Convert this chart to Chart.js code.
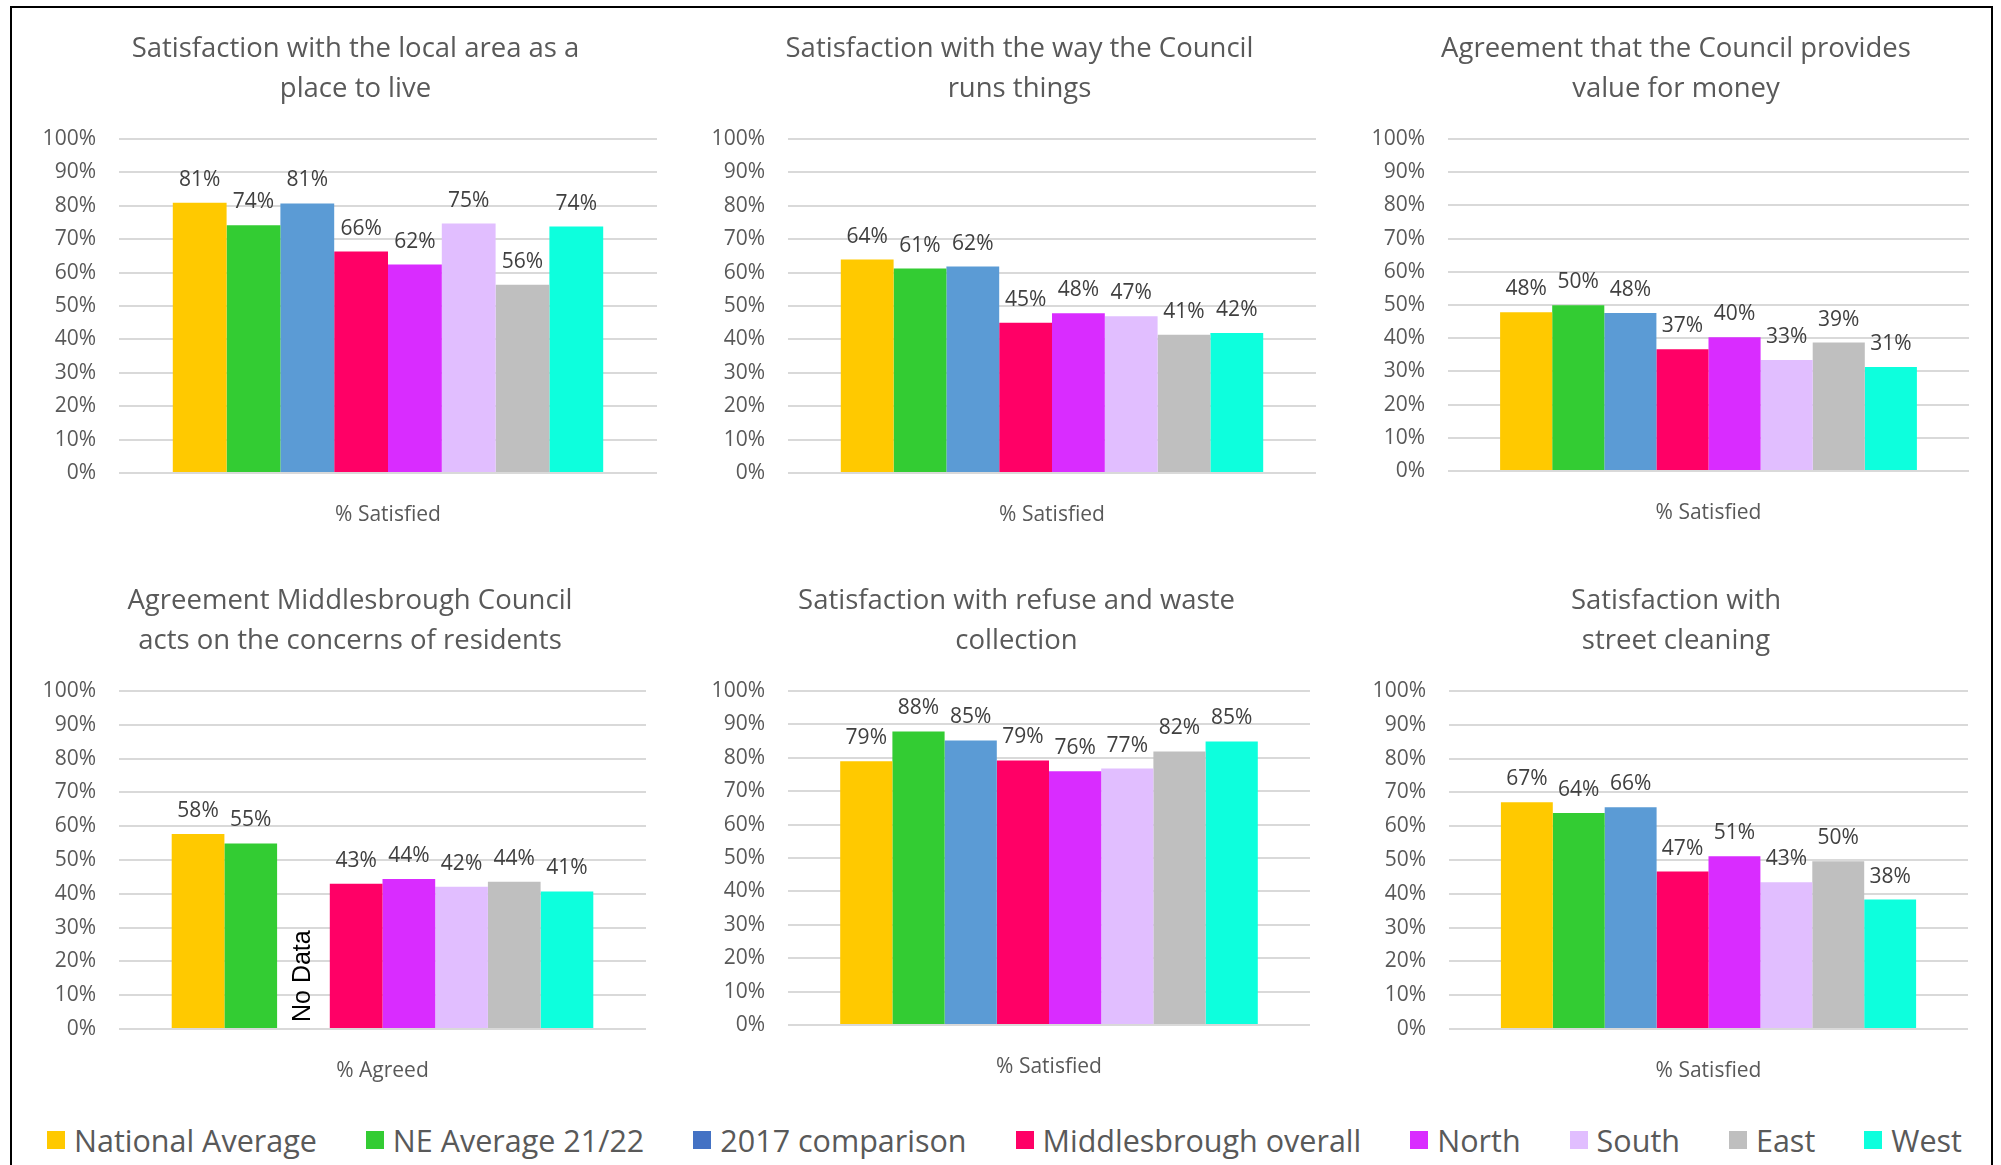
<!DOCTYPE html>
<html lang="en">
<head>
  <meta charset="UTF-8">
  <title>Residents survey results</title>
  <script src="https://cdn.jsdelivr.net/npm/chart.js"></script>
  <style>
    body {
      margin: 0;
      width: 2001px;
      height: 1165px;
      background: #fff;
      overflow: hidden;
      position: relative;
      font-family: 'Open Sans', sans-serif;
    }

    .frame {
      position: absolute;
      left: 10px;
      top: 6px;
      width: 1983px;
      height: 1200px;
      border: 2px solid #000;
      border-bottom: none;
      box-sizing: border-box;
    }

    .box { position: absolute; }
    #box1 { left: 44px;   top: 0;     width: 623px; height: 533px; }
    #box2 { left: 713px;  top: 0;     width: 613px; height: 533px; }
    #box3 { left: 1373px; top: 0;     width: 606px; height: 531px; }
    #box4 { left: 44px;   top: 552px; width: 612px; height: 537px; }
    #box5 { left: 713px;  top: 552px; width: 607px; height: 533px; }
    #box6 { left: 1374px; top: 552px; width: 604px; height: 537px; }

    #legend {
      position: absolute;
      left: 4px;
      top: 1121px;
      width: 2001px;
      display: flex;
      justify-content: center;
      gap: 49px;
      font-size: 30.5px;
      line-height: 38px;
      color: #595959;
    }
    #legend .item { display: flex; align-items: center; }
    #legend .sw { width: 18px; height: 18px; margin-right: 9px; }
  </style>
</head>
<body>

  <div class="frame"></div>

  <div class="box" id="box1"><canvas id="chart1"></canvas></div>
  <div class="box" id="box2"><canvas id="chart2"></canvas></div>
  <div class="box" id="box3"><canvas id="chart3"></canvas></div>
  <div class="box" id="box4"><canvas id="chart4"></canvas></div>
  <div class="box" id="box5"><canvas id="chart5"></canvas></div>
  <div class="box" id="box6"><canvas id="chart6"></canvas></div>

  <div id="legend"></div>

  <script>
    // Series (same in every chart)
    const seriesNames = ['National Average', 'NE Average 21/22', '2017 comparison', 'Middlesbrough overall',
                         'North', 'South', 'East', 'West'];
    const barColours = ['#FFC900', '#33CC33', '#5B9BD5', '#FF0066', '#D92CFF', '#E1BEFF', '#BFBFBF', '#0DFFDD'];
    const legendColours = ['#FFC900', '#33CC33', '#4472C4', '#FF0066', '#D92CFF', '#E1BEFF', '#BFBFBF', '#0DFFDD'];

    // Values (%) per chart, in series order; null = no data
    const localArea      = [80.9, 74.2, 80.7, 66.3, 62.4, 74.7, 56.4, 73.8];
    const councilRuns    = [63.9, 61.2, 61.8, 45.0, 47.8, 46.9, 41.4, 41.9];
    const valueForMoney  = [47.8, 49.9, 47.6, 36.7, 40.3, 33.4, 38.7, 31.3];
    const actsOnConcerns = [57.7, 54.9, null, 43.0, 44.4, 42.1, 43.6, 40.7];
    const refuseWaste    = [79.0, 87.9, 85.2, 79.2, 76.0, 76.8, 81.9, 84.9];
    const streetCleaning = [67.1, 63.9, 65.6, 46.6, 51.1, 43.4, 49.6, 38.3];

    const textColour = '#595959';
    Chart.defaults.font.family = "'Open Sans', sans-serif";
    Chart.defaults.color = textColour;

    // value labels above the bars, "No Data" for missing values
    const barLabels = {
      id: 'barLabels',
      afterDatasetsDraw(chart) {
        const ctx = chart.ctx;
        const zero = chart.scales.y.getPixelForValue(0);
        chart.data.datasets.forEach((ds, i) => {
          chart.getDatasetMeta(i).data.forEach((bar, j) => {
            const v = ds.data[j];
            ctx.save();
            if (v === null) {
              ctx.translate(bar.x, zero - 7);
              ctx.rotate(-Math.PI / 2);
              ctx.font = '25px "Liberation Sans", Arial, sans-serif';
              ctx.fillStyle = '#000';
              ctx.textAlign = 'left';
              ctx.textBaseline = 'middle';
              ctx.fillText('No Data', 0, 0);
            } else {
              ctx.font = '21px "Open Sans", sans-serif';
              ctx.fillStyle = '#404040';
              ctx.textAlign = 'center';
              ctx.textBaseline = 'alphabetic';
              ctx.fillText(Math.round(v) + '%', bar.x, bar.y - 17);
            }
            ctx.restore();
          });
        });
      }
    };

    function makeChart(id, title, category, values) {
      return new Chart(document.getElementById(id), {
        type: 'bar',
        data: {
          labels: [category],
          datasets: seriesNames.map((name, i) => ({
            label: name,
            data: [values[i]],
            backgroundColor: barColours[i],
            borderWidth: 0,
            barPercentage: 1,
            categoryPercentage: 0.8
          }))
        },
        options: {
          responsive: true,
          maintainAspectRatio: false,
          animation: false,
          plugins: {
            legend: { display: false },
            tooltip: { enabled: false },
            title: {
              display: true,
              text: title,
              color: textColour,
              font: { size: 27.5, weight: 'normal', lineHeight: 1.455 },
              padding: { top: 29, bottom: 30 }
            }
          },
          scales: {
            x: {
              grid: { display: false },
              border: { display: false },
              ticks: { font: { size: 21 }, padding: 21, color: textColour },
              afterFit: s => { s.height = 60; }
            },
            y: {
              min: 0,
              max: 100,
              ticks: { stepSize: 10, font: { size: 21 }, padding: 23, color: textColour,
                       callback: v => v + '%' },
              grid: { color: '#D9D9D9', lineWidth: 2, drawTicks: false },
              border: { display: false },
              afterFit: s => { s.width = 75; }
            },
            // empty strip on the right so the title stays centred on the whole box
            pad: {
              type: 'linear',
              position: 'right',
              ticks: { display: false },
              grid: { display: false },
              border: { display: false },
              afterFit: s => { s.width = 10; }
            }
          }
        },
        plugins: [barLabels]
      });
    }

    makeChart('chart1', ['Satisfaction with the local area as a', 'place to live'], '% Satisfied', localArea);
    makeChart('chart2', ['Satisfaction with the way the Council', 'runs things'], '% Satisfied', councilRuns);
    makeChart('chart3', ['Agreement that the Council provides', 'value for money'], '% Satisfied', valueForMoney);
    makeChart('chart4', ['Agreement Middlesbrough Council', 'acts on the concerns of residents'], '% Agreed', actsOnConcerns);
    makeChart('chart5', ['Satisfaction with refuse and waste', 'collection'], '% Satisfied', refuseWaste);
    makeChart('chart6', ['Satisfaction with', 'street cleaning'], '% Satisfied', streetCleaning);

    // shared legend
    const legend = document.getElementById('legend');
    seriesNames.forEach((name, i) => {
      const item = document.createElement('div');
      item.className = 'item';
      const sw = document.createElement('span');
      sw.className = 'sw';
      sw.style.background = legendColours[i];
      item.appendChild(sw);
      item.appendChild(document.createTextNode(name));
      legend.appendChild(item);
    });
  </script>
</body>
</html>
